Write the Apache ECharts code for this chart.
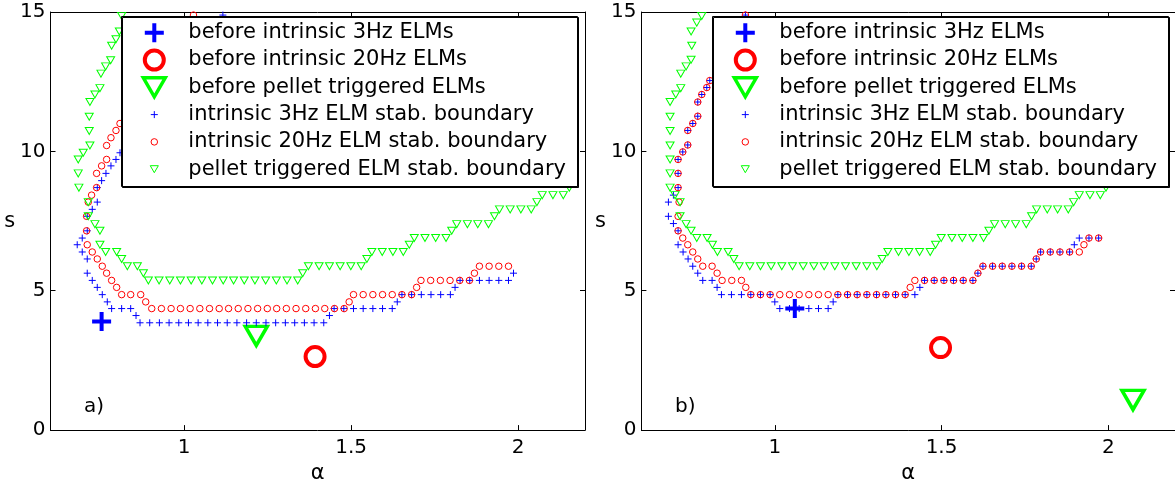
<!DOCTYPE html>
<html><head><meta charset="utf-8">
<script src="https://cdn.jsdelivr.net/npm/echarts@6/dist/echarts.min.js"></script>
<style>html,body{margin:0;padding:0;background:#fff}#c{width:1175px;height:489px}</style>
</head><body><div id="c"></div><script>
// ---------- tick labels ----------
const xTickValues = [1, 1.5, 2];
const yTickValues = [0, 5, 10, 15];
const seriesNames = [
  'before intrinsic 3Hz ELMs',
  'before intrinsic 20Hz ELMs',
  'before pellet triggered ELMs',
  'intrinsic 3Hz ELM stab. boundary',
  'intrinsic 20Hz ELM stab. boundary',
  'pellet triggered ELM stab. boundary'
];
const panelLabels = ['a)', 'b)'];

// ---------- panel a) data [alpha, s] ----------
const A_big3Hz = [[0.753, 3.90]];
const A_big20Hz = [[1.392, 2.64]];
const A_bigPellet = [[1.216, 3.38]];
const A_3Hz = [
  [1.116,14.89],
  [0.808,9.95],[0.796,9.71],[0.781,9.48],[0.766,9.21],[0.753,8.95],[0.740,8.70],[0.740,8.18],[0.725,7.92],
  [0.710,7.67],[0.710,7.15],[0.695,6.89],[0.680,6.65],[0.695,6.39],[0.710,6.14],[0.710,5.63],[0.725,5.37],
  [0.740,5.12],[0.755,4.86],[0.770,4.60],[0.783,4.36],[0.813,4.36],[0.840,4.36],[0.856,4.11],
  [0.868,3.85],[0.897,3.85],[0.926,3.85],[0.955,3.85],[0.984,3.85],[1.013,3.85],[1.042,3.85],[1.071,3.85],
  [1.100,3.85],[1.129,3.85],[1.158,3.85],[1.187,3.85],[1.216,3.85],[1.245,3.85],[1.274,3.85],[1.303,3.85],
  [1.331,3.85],[1.360,3.85],[1.389,3.85],[1.418,3.85],
  [1.435,4.11],
  [1.449,4.36],[1.478,4.36],[1.507,4.36],[1.536,4.36],[1.565,4.36],[1.594,4.36],[1.623,4.36],
  [1.638,4.60],
  [1.652,4.86],[1.681,4.86],[1.710,4.86],[1.739,4.86],[1.768,4.86],[1.797,4.86],
  [1.811,5.12],
  [1.826,5.37],[1.855,5.37],[1.884,5.37],[1.913,5.37],[1.942,5.37],[1.971,5.37],
  [1.986,5.63]
];
const A_20Hz = [
  [1.028,14.89],
  [0.808,11.00],[0.796,10.75],[0.781,10.49],[0.768,10.21],[0.768,9.71],[0.753,9.48],[0.738,9.21],[0.738,8.70],
  [0.723,8.43],[0.713,8.18],[0.708,7.67],[0.708,7.15],[0.710,6.65],[0.725,6.39],[0.740,6.14],[0.755,5.88],
  [0.768,5.63],[0.783,5.37],[0.798,5.12],[0.813,4.86],[0.840,4.86],[0.870,4.86],[0.885,4.60],
  [0.903,4.36],[0.932,4.36],[0.961,4.36],[0.989,4.36],[1.018,4.36],[1.047,4.36],[1.076,4.36],[1.105,4.36],
  [1.133,4.36],[1.162,4.36],[1.191,4.36],[1.220,4.36],[1.249,4.36],[1.277,4.36],[1.306,4.36],[1.335,4.36],
  [1.364,4.36],[1.393,4.36],[1.421,4.36],[1.450,4.36],[1.479,4.36],
  [1.494,4.60],
  [1.507,4.86],[1.536,4.86],[1.565,4.86],[1.594,4.86],[1.623,4.86],[1.652,4.86],[1.681,4.86],
  [1.696,5.12],
  [1.709,5.37],[1.738,5.37],[1.767,5.37],[1.796,5.37],[1.825,5.37],[1.854,5.37],
  [1.869,5.63],
  [1.884,5.88],[1.913,5.88],[1.942,5.88],[1.971,5.88]
];
const A_pellet = [
  [0.813,14.86],[0.806,14.30],[0.796,14.02],[0.783,13.79],[0.780,13.27],[0.765,13.05],[0.751,12.79],[0.748,12.27],
  [0.733,12.04],[0.718,11.77],[0.716,11.24],[0.716,10.73],[0.718,10.21],[0.698,9.95],[0.683,9.71],[0.683,9.21],
  [0.685,8.70],[0.713,8.18],[0.713,7.67],[0.733,7.39],[0.748,7.15],[0.748,6.65],[0.765,6.39],[0.798,6.39],
  [0.813,6.14],[0.830,5.88],[0.860,5.88],[0.878,5.63],
  [0.893,5.37],[0.925,5.37],[0.957,5.37],[0.989,5.37],[1.021,5.37],[1.053,5.37],[1.085,5.37],[1.117,5.37],
  [1.148,5.37],[1.180,5.37],[1.212,5.37],[1.244,5.37],[1.276,5.37],[1.308,5.37],[1.340,5.37],
  [1.355,5.63],
  [1.372,5.88],[1.404,5.88],[1.435,5.88],[1.467,5.88],[1.499,5.88],[1.530,5.88],
  [1.547,6.14],
  [1.562,6.39],[1.593,6.39],[1.625,6.39],[1.656,6.39],
  [1.674,6.65],
  [1.689,6.89],[1.721,6.89],[1.753,6.89],[1.784,6.89],
  [1.801,7.15],
  [1.816,7.39],[1.848,7.39],[1.879,7.39],[1.911,7.39],
  [1.929,7.67],
  [1.944,7.92],[1.976,7.92],[2.008,7.92],[2.039,7.92],
  [2.056,8.18],
  [2.072,8.43],[2.104,8.43],[2.135,8.43],
  [2.153,8.70]
];

// ---------- panel b) data [alpha, s] ----------
const B_big3Hz = [[1.060, 4.36]];
const B_big20Hz = [[1.497, 2.96]];
const B_bigPellet = [[2.074, 1.08]];
const B_3Hz = [
  [0.912,14.89],
  [0.805,12.54],[0.796,12.29],[0.781,12.04],[0.769,11.77],[0.769,11.26],[0.754,11.00],[0.739,10.75],[0.739,10.23],
  [0.724,9.98],[0.710,9.71],[0.710,9.21],[0.710,8.70],
  [0.696,8.43],[0.681,8.18],[0.681,7.67],[0.696,7.41],[0.710,7.15],[0.710,6.65],[0.725,6.39],[0.740,6.14],
  [0.754,5.88],[0.769,5.63],[0.784,5.37],[0.812,5.37],[0.827,5.12],
  [0.840,4.86],[0.870,4.86],[0.900,4.86],[0.928,4.86],[0.957,4.86],[0.986,4.86],
  [1.000,4.60],
  [1.015,4.36],[1.044,4.36],[1.073,4.36],[1.102,4.36],[1.131,4.36],[1.160,4.36],
  [1.175,4.60],
  [1.189,4.86],[1.218,4.86],[1.247,4.86],[1.276,4.86],[1.305,4.86],[1.333,4.86],[1.362,4.86],[1.391,4.86],[1.420,4.86],
  [1.435,5.12],
  [1.449,5.37],[1.478,5.37],[1.507,5.37],[1.536,5.37],[1.565,5.37],[1.594,5.37],
  [1.609,5.63],
  [1.624,5.88],[1.653,5.88],[1.682,5.88],[1.711,5.88],[1.740,5.88],[1.769,5.88],
  [1.784,6.14],
  [1.797,6.39],[1.826,6.39],[1.855,6.39],[1.884,6.39],
  [1.898,6.65],
  [1.913,6.89],[1.942,6.89],[1.971,6.89]
];
const B_20Hz = [
  [0.912,14.89],
  [0.805,12.54],[0.796,12.29],[0.781,12.04],[0.769,11.77],[0.769,11.26],[0.754,11.00],[0.739,10.75],[0.739,10.23],
  [0.724,9.98],[0.710,9.71],[0.710,9.21],[0.710,8.70],[0.713,8.18],[0.710,7.67],[0.710,7.15],[0.724,6.89],
  [0.739,6.65],[0.754,6.39],[0.769,6.14],[0.784,5.88],[0.812,5.88],[0.827,5.63],[0.842,5.37],[0.871,5.37],
  [0.900,5.37],[0.913,5.12],
  [0.928,4.86],[0.957,4.86],[0.986,4.86],[1.015,4.86],[1.044,4.86],[1.073,4.86],[1.102,4.86],[1.131,4.86],
  [1.160,4.86],[1.189,4.86],[1.218,4.86],[1.247,4.86],[1.276,4.86],[1.305,4.86],[1.333,4.86],[1.362,4.86],[1.391,4.86],
  [1.406,5.12],
  [1.420,5.37],[1.449,5.37],[1.478,5.37],[1.507,5.37],[1.536,5.37],[1.565,5.37],[1.594,5.37],
  [1.609,5.63],
  [1.624,5.88],[1.653,5.88],[1.682,5.88],[1.711,5.88],[1.740,5.88],[1.769,5.88],
  [1.784,6.14],
  [1.797,6.39],[1.826,6.39],[1.855,6.39],[1.884,6.39],[1.913,6.39],
  [1.927,6.65],
  [1.942,6.89],[1.971,6.89]
];
const B_pellet = [
  [0.781,14.86],[0.766,14.62],[0.749,14.30],[0.751,13.79],[0.749,13.29],[0.734,13.05],[0.718,12.79],[0.718,12.27],
  [0.703,12.04],[0.686,11.77],[0.686,11.24],[0.686,10.73],[0.686,10.21],[0.686,9.71],[0.686,9.21],[0.686,8.70],
  [0.701,8.43],[0.716,8.18],[0.716,7.67],[0.734,7.39],[0.749,7.15],[0.766,6.89],[0.797,6.89],[0.813,6.65],
  [0.828,6.39],[0.860,6.39],[0.877,6.14],
  [0.893,5.88],[0.925,5.88],[0.957,5.88],[0.989,5.88],[1.021,5.88],[1.053,5.88],[1.085,5.88],[1.117,5.88],
  [1.148,5.88],[1.180,5.88],[1.212,5.88],[1.244,5.88],[1.276,5.88],[1.306,5.88],
  [1.322,6.14],
  [1.339,6.39],[1.371,6.39],[1.402,6.39],[1.434,6.39],[1.466,6.39],
  [1.482,6.65],
  [1.499,6.89],[1.531,6.89],[1.562,6.89],[1.594,6.89],[1.626,6.89],
  [1.642,7.15],
  [1.659,7.39],[1.691,7.39],[1.722,7.39],[1.754,7.39],
  [1.770,7.67],
  [1.785,7.92],[1.817,7.92],[1.848,7.92],[1.880,7.92],
  [1.896,8.18],
  [1.913,8.43],[1.945,8.43],[1.976,8.43],
  [1.993,8.70]
];

// ---------- styles / layout ----------
const FONT = 'DejaVu Sans';
const BLUE = '#0000ff', RED = '#ff0000', GREEN = '#00ff00';
const PLUS = 'path://M5,0L5,10M0,5L10,5';
const TRI = 'path://M0,0L10,0L5,8.66Z';
const markerStyles = [
  {symbol: PLUS, size: 19, legendH: 19, aspect: 1, color: BLUE, lw: 4},
  {symbol: 'circle', size: 19, legendH: 19, aspect: 1, color: RED, lw: 4},
  {symbol: TRI, size: [22, 19], legendH: 19, aspect: 10 / 8.66, color: GREEN, lw: 3.5},
  {symbol: PLUS, size: 7, legendH: 7, aspect: 1, color: BLUE, lw: 1},
  {symbol: 'circle', size: 6.5, legendH: 6.5, aspect: 1, color: RED, lw: 1},
  {symbol: TRI, size: [8, 7], legendH: 7, aspect: 10 / 8.66, color: GREEN, lw: 1}
];
const panels = [
  {grid: {left: 50.5, top: 12, width: 534.5, height: 420}, box: [121.5, 16.5, 456, 170],
   series: [A_big3Hz, A_big20Hz, A_bigPellet, A_3Hz, A_20Hz, A_pellet], labelPos: [84, 407]},
  {grid: {left: 641.4, top: 12, width: 534.5, height: 420}, box: [712.5, 16.5, 456, 170],
   series: [B_big3Hz, B_big20Hz, B_bigPellet, B_3Hz, B_20Hz, B_pellet], labelPos: [675, 407]}
];
const rowCenters = [32.7, 60.0, 87.3, 114.6, 141.9, 169.2];
const ICON_CX = 32.8;   // icon centre, relative to legend box left
const LEGEND_LH = 24;

const axisLineStyle = {show: true, onZero: false, lineStyle: {color: '#000', width: 1}};
const grids = [], xAxes = [], yAxes = [], series = [], legends = [], graphics = [];

panels.forEach((p, pi) => {
  grids.push(Object.assign({containLabel: false, show: false}, p.grid));
  xAxes.push({
    type: 'value', gridIndex: pi, position: 'bottom', min: 0.6, max: 2.2,
    axisLine: axisLineStyle,
    axisTick: {show: true, inside: true, length: 5, customValues: xTickValues, lineStyle: {color: '#000'}},
    axisLabel: {show: true, customValues: xTickValues, margin: 8, color: '#000', fontFamily: FONT, fontSize: 20},
    splitLine: {show: false},
    name: 'α', nameLocation: 'middle', nameGap: 30,
    nameTextStyle: {color: '#000', fontFamily: FONT, fontSize: 21}
  });
  xAxes.push({
    type: 'value', gridIndex: pi, position: 'top', min: 0.6, max: 2.2,
    axisLine: axisLineStyle,
    axisTick: {show: true, inside: true, length: 5, customValues: xTickValues, lineStyle: {color: '#000'}},
    axisLabel: {show: false}, splitLine: {show: false}
  });
  yAxes.push({
    type: 'value', gridIndex: pi, position: 'left', min: 0, max: 15, interval: 5,
    axisLine: axisLineStyle,
    axisTick: {show: true, inside: true, length: 5, lineStyle: {color: '#000'}},
    axisLabel: {show: true, margin: 5, color: '#000', fontFamily: FONT, fontSize: 20},
    splitLine: {show: false},
    name: 's', nameLocation: 'middle', nameGap: 31, nameRotate: 0,
    nameTextStyle: {color: '#000', fontFamily: FONT, fontSize: 21}
  });
  yAxes.push({
    type: 'value', gridIndex: pi, position: 'right', min: 0, max: 15, interval: 5,
    axisLine: axisLineStyle,
    axisTick: {show: true, inside: true, length: 5, lineStyle: {color: '#000'}},
    axisLabel: {show: false}, splitLine: {show: false}
  });
  p.series.forEach((d, i) => {
    const m = markerStyles[i];
    series.push({
      type: 'scatter', name: seriesNames[i], xAxisIndex: pi * 2, yAxisIndex: pi * 2,
      data: d, symbol: m.symbol, symbolSize: m.size, silent: true, clip: false,
      itemStyle: {color: 'transparent', borderColor: m.color, borderWidth: m.lw, borderJoin: 'miter', opacity: 1},
      emphasis: {disabled: true}, z: 2
    });
    // legend group is placed by its bounding box, which starts at the icon's left edge (incl. half stroke)
    const halfBox = m.legendH * m.aspect / 2 + m.lw / 2;
    legends.push({
      show: true, left: p.box[0] + ICON_CX - halfBox, top: rowCenters[i] - LEGEND_LH / 2, orient: 'vertical',
      itemWidth: 58, itemHeight: m.legendH, itemGap: 0, padding: 0,
      selectedMode: false, z: 101, symbolRotate: 0,
      textStyle: {fontFamily: FONT, fontSize: 21, color: '#000', lineHeight: LEGEND_LH},
      data: [{name: seriesNames[i], icon: m.symbol,
              itemStyle: {color: 'transparent', borderColor: m.color, borderWidth: m.lw, borderJoin: 'miter'}}]
    });
  });
  graphics.push({
    type: 'rect', z: 100, silent: true,
    shape: {x: p.box[0], y: p.box[1], width: p.box[2], height: p.box[3]},
    style: {fill: '#fff', stroke: '#000', lineWidth: 1, shadowColor: '#000', shadowOffsetX: 1, shadowOffsetY: 1, shadowBlur: 0}
  });
  graphics.push({
    type: 'text', z: 100, silent: true, x: p.labelPos[0], y: p.labelPos[1],
    style: {text: panelLabels[pi], fill: '#000', fontFamily: FONT, fontSize: 20, verticalAlign: 'middle', align: 'left'}
  });
});

const chart = echarts.init(document.getElementById('c'), null, {renderer: 'canvas'});
chart.setOption({
  animation: false,
  backgroundColor: '#fff',
  grid: grids, xAxis: xAxes, yAxis: yAxes,
  series: series, legend: legends, graphic: graphics,
  tooltip: {show: false}
});
</script></body></html>
